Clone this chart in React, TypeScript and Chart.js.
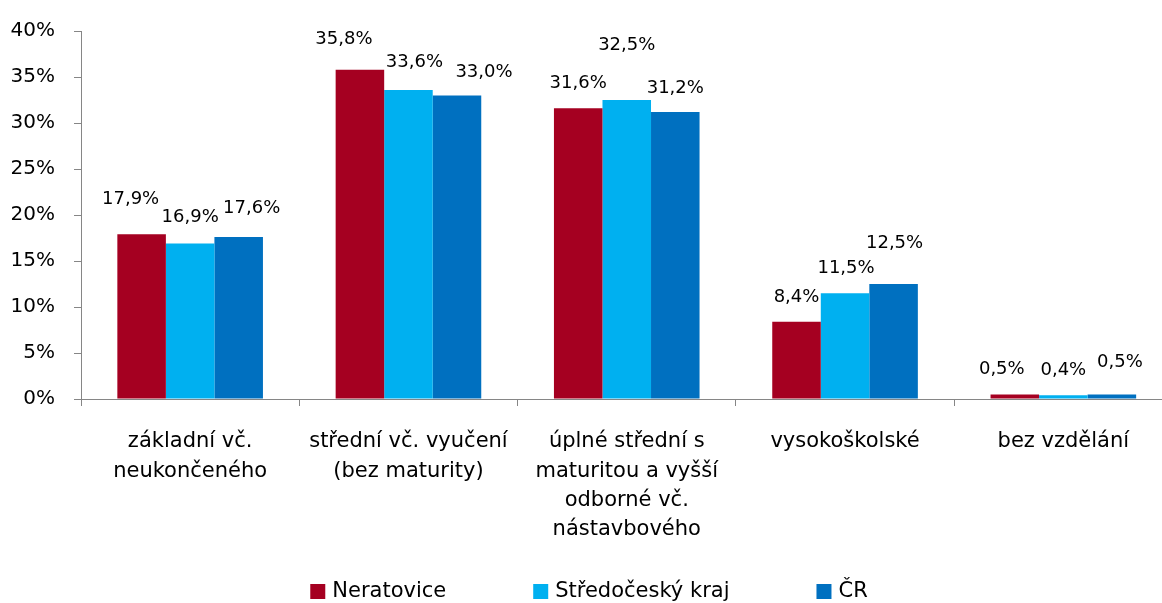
import React, { useEffect, useRef } from 'react';
import { Chart, registerables } from 'chart.js';

Chart.register(...registerables);

const categories: string[][] = [
  ['základní vč.', 'neukončeného'],
  ['střední vč. vyučení', '(bez maturity)'],
  ['úplné střední s', 'maturitou a vyšší', 'odborné vč.', 'nástavbového'],
  ['vysokoškolské'],
  ['bez vzdělání'],
];

const seriesNames = ['Neratovice', 'Středočeský kraj', 'ČR'];
const neratovice = [17.9, 35.8, 31.6, 8.4, 0.5];
const stredocesky = [16.9, 33.6, 32.5, 11.5, 0.4];
const cr = [17.6, 33.0, 31.2, 12.5, 0.5];
const seriesColors = ['#A50021', '#00B0F0', '#0070C0'];

const yMin = 0;
const yMax = 40;
const yStep = 5;

// manual label nudges (px) relative to the top-centre of each bar, per series
const labelNudges: number[][][] = [
  [[-11, -35], [-16, -30], [0, -25], [0, -24], [-13, -25]],
  [[0, -26], [6, -28], [0, -55], [1, -25], [0, -25]],
  [[13, -29], [27, -23], [0, -24], [1, -41], [8, -32]],
];

const FONT = '"DejaVu Sans", sans-serif';

const fmt = (v: number) => v.toFixed(1).replace('.', ',') + '%';

const dataLabelPlugin = {
  id: 'dataLabels',
  afterDatasetsDraw(chart: any) {
    const ctx = chart.ctx;
    ctx.save();
    ctx.font = `18px ${FONT}`;
    ctx.fillStyle = '#000';
    ctx.textAlign = 'center';
    ctx.textBaseline = 'middle';
    chart.data.datasets.forEach((ds: any, si: number) => {
      const meta = chart.getDatasetMeta(si);
      meta.data.forEach((bar: any, i: number) => {
        const n = labelNudges[si][i];
        ctx.fillText(fmt(ds.data[i]), bar.x + n[0], bar.y + n[1]);
      });
    });
    ctx.restore();
  },
};

const legendPlugin = {
  id: 'bottomLegend',
  afterDraw(chart: any) {
    const ctx = chart.ctx;
    ctx.save();
    ctx.font = `21px ${FONT}`;
    ctx.textBaseline = 'middle';
    ctx.textAlign = 'left';
    const box = 15;
    const boxGap = 7;
    const itemGap = 87;
    const items = chart.data.datasets.map((ds: any) => ({
      text: ds.label as string,
      color: ds.backgroundColor as string,
      w: box + boxGap + ctx.measureText(ds.label).width,
    }));
    const total = items.reduce((s: number, it: any) => s + it.w, 0) + itemGap * (items.length - 1);
    let x = (chart.width - total) / 2;
    const yc = 591.5;
    items.forEach((it: any) => {
      ctx.fillStyle = it.color;
      ctx.fillRect(x, yc - box / 2, box, box);
      ctx.fillStyle = '#000';
      ctx.fillText(it.text, x + box + boxGap, yc);
      x += it.w + itemGap;
    });
    ctx.restore();
  },
};

export default function App() {
  const canvasRef = useRef<HTMLCanvasElement | null>(null);

  useEffect(() => {
    if (!canvasRef.current) return;
    const seriesValues = [neratovice, stredocesky, cr];
    const chart = new Chart(canvasRef.current, {
      type: 'bar',
      data: {
        labels: categories,
        datasets: seriesNames.map((name, i) => ({
          label: name,
          data: seriesValues[i],
          backgroundColor: seriesColors[i],
          borderWidth: 0,
          categoryPercentage: 0.667,
          barPercentage: 1,
        })),
      },
      options: {
        animation: false,
        responsive: true,
        maintainAspectRatio: false,
        layout: { padding: { top: 28, left: 0, right: 5.5, bottom: 0 } },
        plugins: {
          legend: { display: false },
          tooltip: { enabled: false },
        },
        scales: {
          x: {
            grid: {
              display: true,
              drawOnChartArea: false,
              drawTicks: true,
              tickLength: 7,
              color: '#868686',
              offset: true,
            },
            border: { display: true, color: '#868686', width: 1 },
            ticks: {
              color: '#000',
              font: { family: FONT, size: 21, lineHeight: 1.4 },
              padding: 21,
              maxRotation: 0,
              autoSkip: false,
            },
            afterFit: (scale: any) => {
              scale.height = 204;
            },
          },
          y: {
            min: yMin,
            max: yMax,
            grid: {
              display: true,
              drawOnChartArea: false,
              drawTicks: true,
              tickLength: 7,
              color: '#868686',
            },
            border: { display: true, color: '#868686', width: 1 },
            ticks: {
              stepSize: yStep,
              color: '#000',
              font: { family: FONT, size: 20 },
              padding: 19,
              callback: (v: any) => `${v}%`,
            },
            afterFit: (scale: any) => {
              scale.width = 81;
            },
          },
        },
      },
      plugins: [dataLabelPlugin, legendPlugin],
    });
    return () => chart.destroy();
  }, []);

  return (
    <div style={{ position: 'absolute', left: 0, top: 0, width: 1162, height: 603, overflow: 'hidden', background: '#fff' }}>
      <div style={{ position: 'relative', width: 1178, height: 603 }}>
        <canvas ref={canvasRef} />
      </div>
    </div>
  );
}
